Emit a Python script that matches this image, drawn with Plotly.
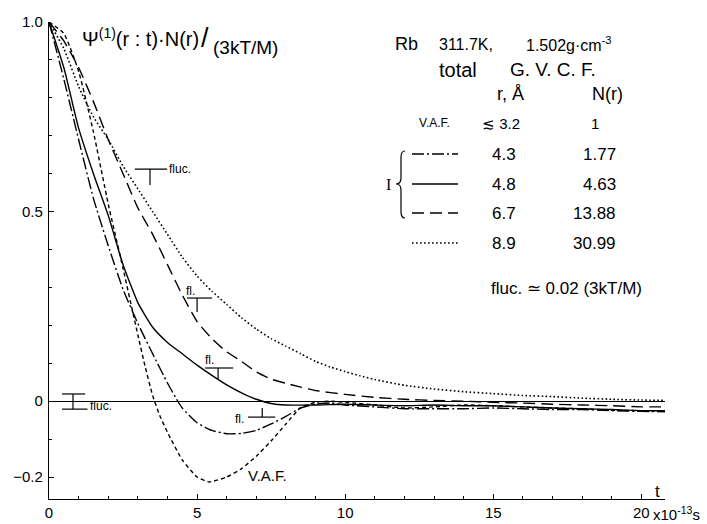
import plotly.graph_objects as go

# ---------------- data ----------------
T_VAF = [0, 0.5, 1.0, 1.5, 2.0, 2.5, 3.0, 3.25, 3.5, 3.75, 4.0, 4.5, 5.0, 5.4, 6.0, 6.5, 7.0, 7.5, 8.0,
         8.5, 9.0, 9.5, 10, 11, 12, 13, 14, 15, 16, 17, 18, 19, 20, 20.8]
V_VAF = [1.0, 0.97, 0.87, 0.71, 0.52, 0.35, 0.175, 0.09, 0.015, -0.04, -0.082, -0.155, -0.2, -0.213,
         -0.2, -0.178, -0.145, -0.105, -0.06, -0.017, -0.003, 0.0, -0.003, -0.01, -0.018, -0.015, -0.01,
         -0.012, -0.015, -0.018, -0.02, -0.024, -0.025, -0.025]

T_43 = [0, 0.5, 1.0, 1.5, 2.0, 2.5, 3.0, 3.5, 4.0, 4.3, 4.5, 5.0, 5.5, 6.0, 6.5, 7.0, 7.5, 8.0, 8.5, 9.0,
        9.5, 10, 11, 12, 13, 14, 15, 16, 17, 18, 19, 20, 20.8]
V_43 = [1.0, 0.85, 0.69, 0.535, 0.41, 0.295, 0.205, 0.125, 0.048, 0.006, -0.018, -0.057, -0.077, -0.086,
        -0.085, -0.077, -0.06, -0.04, -0.018, -0.008, -0.005, -0.01, -0.015, -0.02, -0.02, -0.02, -0.018,
        -0.02, -0.022, -0.022, -0.025, -0.027, -0.028]

T_48 = [0, 0.5, 1.0, 1.5, 2.0, 2.5, 3.0, 3.5, 4.0, 4.5, 5.0, 5.5, 6.0, 6.5, 7.0, 7.5, 8.0, 9, 10, 11, 12,
        13, 14, 15, 16, 17, 18, 19, 20, 20.8]
V_48 = [1.0, 0.88, 0.72, 0.6, 0.49, 0.36, 0.26, 0.195, 0.155, 0.125, 0.095, 0.068, 0.043, 0.022, 0.005,
        -0.006, -0.01, -0.01, -0.008, -0.01, -0.012, -0.01, -0.012, -0.012, -0.015, -0.018, -0.02, -0.022,
        -0.025, -0.025]

T_67 = [0, 0.5, 1.0, 1.5, 2.0, 2.5, 3.0, 3.5, 4.0, 4.5, 5.0, 5.5, 6.0, 6.5, 7.0, 7.5, 8.0, 8.5, 9.0, 10,
        11, 12, 13, 14, 15, 16, 17, 18, 19, 20, 20.8]
V_67 = [1.0, 0.95, 0.88, 0.79, 0.69, 0.6, 0.51, 0.44, 0.36, 0.28, 0.21, 0.165, 0.13, 0.105, 0.077, 0.058,
        0.047, 0.037, 0.028, 0.018, 0.01, 0.005, 0.002, 0.0, -0.003, -0.005, -0.008, -0.01, -0.012, -0.015,
        -0.015]

T_89 = [0, 0.5, 1.0, 1.5, 2.0, 2.5, 3.0, 3.5, 4.0, 4.5, 5.0, 5.5, 6.0, 6.5, 7.0, 7.5, 8.0, 8.5, 9.0, 9.5,
        10, 10.5, 11, 12, 13, 14, 15, 16, 17, 18, 19, 20, 20.8]
V_89 = [1.0, 0.93, 0.83, 0.75, 0.69, 0.62, 0.56, 0.5, 0.44, 0.38, 0.33, 0.29, 0.255, 0.22, 0.19, 0.165,
        0.145, 0.125, 0.105, 0.09, 0.078, 0.067, 0.057, 0.042, 0.032, 0.025, 0.02, 0.015, 0.012, 0.008,
        0.005, 0.003, 0.002]

R_LABELS = ["\u2272 3.2", "4.3", "4.8", "6.7", "8.9"]
N_LABELS = ["1", "1.77", "4.63", "13.88", "30.99"]

X_TICKS = [0, 5, 10, 15, 20]
X_TICKTEXT = ["0", "5", "10", "15", "20"]
Y_TICKS = [-0.2, 0, 0.5, 1.0]
Y_TICKTEXT = ["\u22120.2", "0", "0.5", "1.0"]

# ---------------- layout geometry ----------------
W_FIG, H_FIG = 707, 524
ML, MR, MT, MB = 49, 42, 22, 25
PW, PH = W_FIG - ML - MR, H_FIG - MT - MB


def pxp(x):
    return (x - ML) / PW


def pyp(y):
    return (MT + PH - y) / PH


FONT = "Liberation Sans, Arial, sans-serif"
LW = 1.4
DASH = {
    "vaf": "4px,3px",
    "43": "12px,3px,2px,3px",
    "48": "solid",
    "67": "12px,6px",
    "89": "1.6px,2.4px",
}

fig = go.Figure()
for t, v, key in [(T_89, V_89, "89"), (T_67, V_67, "67"), (T_48, V_48, "48"),
                  (T_43, V_43, "43"), (T_VAF, V_VAF, "vaf")]:
    fig.add_trace(go.Scatter(x=t, y=v, mode="lines", hoverinfo="skip", showlegend=False,
                             line=dict(color="black", width=1.6 if key == "89" else LW,
                                       dash=DASH[key], shape="spline", smoothing=0.5)))

shapes = []
annotations = []


def seg(x0, y0, x1, y1, ref="data", w=1.2, dash="solid"):
    if ref == "data":
        shapes.append(dict(type="line", xref="x", yref="y", x0=x0, y0=y0, x1=x1, y1=y1,
                           line=dict(color="black", width=w, dash=dash)))
    else:
        shapes.append(dict(type="line", xref="paper", yref="paper", x0=pxp(x0), y0=pyp(y0),
                           x1=pxp(x1), y1=pyp(y1), line=dict(color="black", width=w, dash=dash)))


def text(s, x, y, size, xanchor="center", yanchor="middle", ref="paper", family=FONT):
    if ref == "paper":
        annotations.append(dict(text=s, x=pxp(x), y=pyp(y), xref="paper", yref="paper",
                                xanchor=xanchor, yanchor=yanchor, showarrow=False,
                                font=dict(family=family, size=size, color="black")))
    else:
        annotations.append(dict(text=s, x=x, y=y, xref="x", yref="y",
                                xanchor=xanchor, yanchor=yanchor, showarrow=False,
                                font=dict(family=family, size=size, color="black")))


# fluctuation markers (in data units)
seg(2.9, 0.612, 3.99, 0.612); seg(3.41, 0.612, 3.41, 0.57)
text("fluc.", 4.0, 0.612, 12, "left", "middle", ref="data")
seg(4.66, 0.272, 5.51, 0.272); seg(5.0, 0.272, 5.0, 0.235)
text("fl.", 4.55, 0.268, 12, "left", "bottom", ref="data")
seg(5.27, 0.0875, 6.22, 0.0875); seg(5.71, 0.0875, 5.71, 0.056)
text("fl.", 5.2, 0.084, 12, "left", "bottom", ref="data")
seg(6.72, -0.042, 7.64, -0.042); seg(7.2, -0.042, 7.2, -0.018)
text("fl.", 6.2, -0.046, 12, "left", "middle", ref="data")
seg(0.44, 0.019, 1.22, 0.019); seg(0.81, 0.019, 0.81, -0.021); seg(0.44, -0.021, 1.3, -0.021)
text("fluc.", 1.3, -0.012, 12, "left", "middle", ref="data")

# title
text("\u03a8<sup>(1)</sup>(r : t)\u00b7N(r)", 80, 37, 20, "left")
text("/", 205, 38, 27)
text("(3kT/M)", 211, 47, 19, "left")

# header block
text("Rb", 393, 44, 18, "left")
text("311.7K,", 437, 44, 16, "left")
text("1.502g\u00b7cm<sup>-3</sup>", 524, 44, 16, "left")
text("total", 437, 70, 20, "left")
text("G. V. C. F.", 508, 70, 19, "left")
text("r, \u00c5", 510, 94, 18)
text("N(r)", 607, 94, 18)
text("V.A.F.", 434, 123, 12)

ROW_Y = [123, 154, 184, 213, 243]
for i, (r, n) in enumerate(zip(R_LABELS, N_LABELS)):
    text(r, 504 if i else 501, ROW_Y[i], 17 if i else 15)
    if i == 0:
        text(n, 595, ROW_Y[i], 15)
    else:
        text(n, 618, ROW_Y[i], 17, "right")

for y, key in zip(ROW_Y[1:], ["43", "48", "67", "89"]):
    seg(412, y, 458, y, ref="paper", w=LW, dash=DASH[key])

# brace
pts = [(405, 151), (401, 151), (401, 157), (401, 178), (401, 184), (396, 184),
       (401, 184), (401, 190), (401, 212), (401, 218), (405, 218)]
P = [(pxp(a), pyp(b)) for a, b in pts]
path = (f"M {P[0][0]},{P[0][1]} Q {P[1][0]},{P[1][1]} {P[2][0]},{P[2][1]} "
        f"L {P[3][0]},{P[3][1]} Q {P[4][0]},{P[4][1]} {P[5][0]},{P[5][1]} "
        f"Q {P[6][0]},{P[6][1]} {P[7][0]},{P[7][1]} L {P[8][0]},{P[8][1]} "
        f"Q {P[9][0]},{P[9][1]} {P[10][0]},{P[10][1]}")
shapes.append(dict(type="path", xref="paper", yref="paper", path=path,
                   line=dict(color="black", width=1.2)))
text("I", 388, 184, 16, family="Liberation Serif, serif")

text("fluc. \u2243 0.02 (3kT/M)", 566, 288, 17)

# axis extras
text("t", 657, 491, 17)
text("x10<sup>-13</sup>s", 651, 513, 15, "left")
text("V.A.F.", 267, 475, 15)

fig.update_layout(
    width=W_FIG, height=H_FIG,
    margin=dict(l=ML, r=MR, t=MT, b=MB, pad=0),
    paper_bgcolor="white", plot_bgcolor="white",
    font=dict(family=FONT, size=15, color="black"),
    shapes=shapes, annotations=annotations,
    xaxis=dict(range=[0, 20.8], showgrid=False, zeroline=False, showline=True,
               linecolor="black", linewidth=1.3, ticks="inside", ticklen=5,
               tickcolor="black", tickmode="array", tickvals=X_TICKS, ticktext=X_TICKTEXT,
               tickfont=dict(size=15), automargin=False,
               minor=dict(ticks="inside", ticklen=3, dtick=1, tick0=0, tickcolor="black")),
    yaxis=dict(range=[-0.258, 1.0], showgrid=False, zeroline=True, zerolinecolor="black",
               zerolinewidth=1.2, showline=True, linecolor="black", linewidth=1.3,
               ticks="inside", ticklen=5, tickcolor="black", tickmode="array",
               tickvals=Y_TICKS, ticktext=Y_TICKTEXT, tickfont=dict(size=15),
               ticklabelstandoff=2, automargin=False,
               minor=dict(ticks="inside", ticklen=3, dtick=0.1, tick0=0, tickcolor="black")),
)

fig.write_html("out.html", config={"displayModeBar": False},
               post_script="document.body.style.margin='0px';")
